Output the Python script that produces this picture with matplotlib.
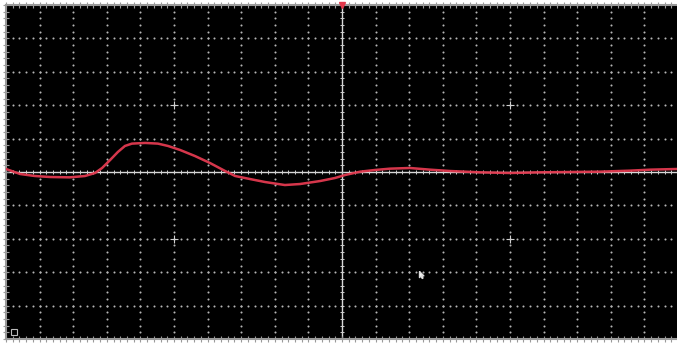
"""Oscilloscope screen capture: single red trace on a dotted 20 x 10 grid."""

import numpy as np
import matplotlib.pyplot as plt

# trace, in screen divisions (x: -10..10, y: -5..5)
time_div = [-10.0, -9.58, -9.14, -8.69, -8.10, -7.65, -7.35, -7.14, -6.90, -6.67,
            -6.46, -6.25, -5.86, -5.48, -5.18, -4.82, -4.38, -3.93, -3.48, -3.18,
            -2.74, -2.29, -1.70, -1.25, -0.65, -0.21, 0.09, 0.54, 0.98, 1.43,
            2.02, 2.62, 3.21, 4.11, 5.00, 5.89, 6.79, 7.68, 8.57, 9.17, 9.97]
volt_div = [0.09, -0.06, -0.12, -0.15, -0.16, -0.12, -0.03, 0.12, 0.36, 0.60,
            0.78, 0.85, 0.87, 0.85, 0.78, 0.66, 0.48, 0.27, 0.03, -0.12,
            -0.21, -0.30, -0.39, -0.36, -0.27, -0.18, -0.09, 0.01, 0.06, 0.10,
            0.12, 0.07, 0.03, -0.01, -0.03, -0.01, 0.0, 0.01, 0.04, 0.07, 0.09]

x_divs = 10
y_divs = 5
sub = 5  # minor dots per division

grid_col = "#b5b5b5"

fig = plt.figure(figsize=(6.77, 3.45), dpi=100, facecolor="white")
ax = fig.add_axes([6 / 677, 6 / 345, 672 / 677, 334 / 345])
ax.set_facecolor("black")
ax.set_xlim(-x_divs, x_divs)
ax.set_ylim(-y_divs, y_divs)
ax.set_xticks([])
ax.set_yticks([])
for side, sp in ax.spines.items():
    sp.set_color("#9a9a9a")
    sp.set_linewidth(1.5)
ax.spines["right"].set_visible(False)

# dotted graticule
minor_x = np.arange(-x_divs * sub, x_divs * sub + 1) / sub
minor_y = np.arange(-y_divs * sub, y_divs * sub + 1) / sub
for gx in range(-x_divs + 1, x_divs):
    if gx == 0:
        continue
    ax.scatter(np.full(minor_y.size, gx), minor_y, s=2.2, color=grid_col,
               linewidths=0, zorder=1)
for gy in range(-y_divs + 1, y_divs):
    if gy == 0:
        continue
    ax.scatter(minor_x, np.full(minor_x.size, gy), s=2.2, color=grid_col,
               linewidths=0, zorder=1)

# solid centre axes with small ticks
ax.axhline(0, color="#d8d8d8", lw=1.0, zorder=2)
ax.axvline(0, color="#d8d8d8", lw=1.0, zorder=2)
ax.plot(minor_x, np.zeros(minor_x.size), ls="none", marker="|", ms=3,
        mew=0.7, color="#cfcfcf", zorder=2)
ax.plot(np.zeros(minor_y.size), minor_y, ls="none", marker="_", ms=3,
        mew=0.7, color="#cfcfcf", zorder=2)

# ticks along top, bottom and left frame
ax.plot(minor_x, np.full(minor_x.size, y_divs), ls="none", marker="|", ms=5,
        mew=0.8, color="#9a9a9a", clip_on=False, zorder=2)
ax.plot(minor_x, np.full(minor_x.size, -y_divs), ls="none", marker="|", ms=5,
        mew=0.8, color="#9a9a9a", clip_on=False, zorder=2)
ax.plot(np.full(minor_y.size, -x_divs), minor_y, ls="none", marker="_", ms=5,
        mew=0.8, color="#9a9a9a", clip_on=False, zorder=2)

# brighter crosses at +-5 / +-2 divisions
for cx in (-5, 5):
    for cy in (-2, 2):
        ax.plot(cx, cy, marker="+", ms=6, mew=0.8, color="#cfcfcf", zorder=2)

# trace
ax.plot(time_div, volt_div, color="#e23a50", lw=1.8, alpha=0.95, zorder=3)

# trigger marker at top
ax.plot(0, y_divs, marker="v", ms=5, color="#e2374b", clip_on=False, zorder=4)

# mouse pointer (arrow pointing up-left)
arrow = [(0, 0), (0, -1.0), (0.25, -0.78), (0.45, -1.15), (0.58, -1.08),
         (0.40, -0.72), (0.72, -0.72), (0, 0)]
ax.plot(2.3, -2.95, marker=arrow, ms=10, color="white", mec="#dddddd",
        zorder=5)

# small icon bottom-left
ax.plot(-9.75, -4.8, marker="s", ms=4, mfc="none", mec="#bbbbbb", mew=0.8,
        zorder=4)

fig.savefig("out.png", dpi=100, facecolor="white")
